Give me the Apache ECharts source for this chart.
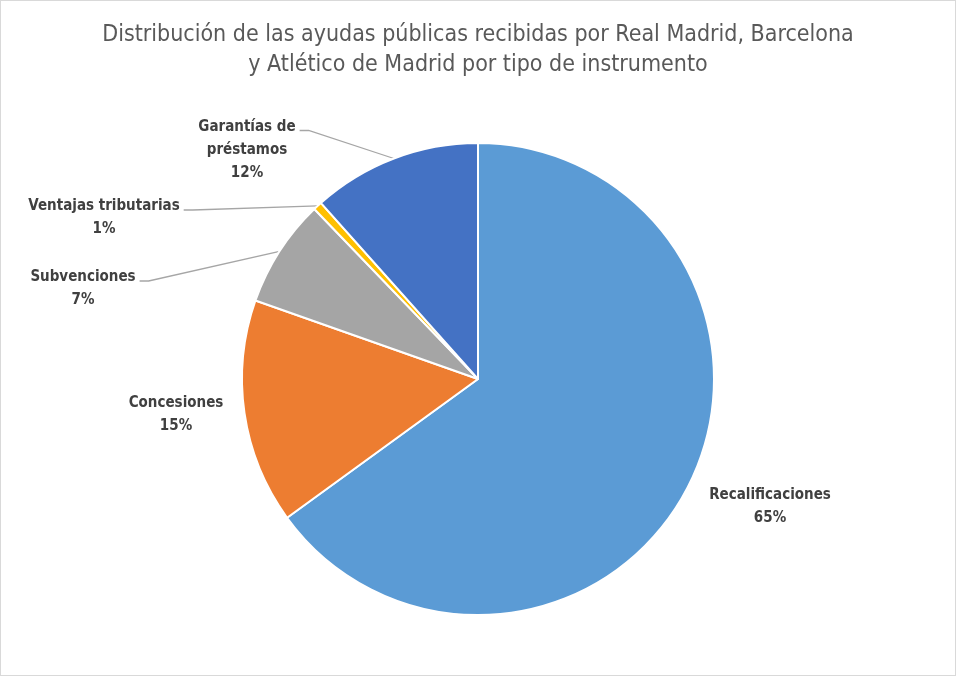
<!DOCTYPE html>
<html>
<head>
<meta charset="utf-8">
<script src="https://cdn.jsdelivr.net/npm/echarts@6/dist/echarts.min.js"></script>
<style>
html,body{margin:0;padding:0;background:#fff;}
#c{width:956px;height:676px;box-sizing:border-box;border:1px solid #d9d9d9;}
</style>
</head>
<body>
<div id="c"></div>
<script>
const titleLines = ['Distribución de las ayudas públicas recibidas por Real Madrid, Barcelona', 'y Atlético de Madrid por tipo de instrumento'];
const categories = ['Recalificaciones', 'Concesiones', 'Subvenciones', 'Ventajas tributarias', 'Garantías de\npréstamos'];
const shares = [65.0, 15.4, 7.4, 0.6, 11.6];
const colors = ['#5B9BD5', '#ED7D31', '#A5A5A5', '#FFC000', '#4472C4'];

// label placement (centre of each label block, in px) and whether it has a leader line
const labelCentres = [[769, 506], [175, 414], [82, 288], [103, 217], [246, 149]];
const leaderLines = [false, false, true, true, true];

const FONT = '"Liberation Sans Narrow", "DejaVu Sans Condensed", Lato, sans-serif';
const chart = echarts.init(document.getElementById('c'));
chart.setOption({
  animation: false,
  title: {
    text: titleLines.join('\n'),
    left: 'center',
    top: 14,
    textStyle: { fontFamily: FONT, fontSize: 23, fontWeight: 'normal', color: '#595959', lineHeight: 30 }
  },
  color: colors,
  series: [{
    type: 'pie',
    center: [477, 378],
    radius: [0, 236],
    startAngle: 90,
    clockwise: true,
    percentPrecision: 0,
    avoidLabelOverlap: false,
    itemStyle: { borderColor: '#fff', borderWidth: 2 },
    label: {
      show: true,
      position: 'outside',
      formatter: '{b}\n{d}%',
      fontFamily: FONT,
      fontSize: 15,
      fontWeight: 'bold',
      color: '#404040',
      lineHeight: 23,
      align: 'center'
    },
    labelLine: { show: true, length: 20, length2: 30, lineStyle: { color: '#a6a6a6', width: 1.3 } },
    labelLayout: function (p) {
      const i = p.dataIndex;
      const c = labelCentres[i];
      const w = p.labelRect.width, h = p.labelRect.height;
      const res = { x: c[0], y: c[1], align: 'center', verticalAlign: 'middle' };
      if (leaderLines[i] && p.labelLinePoints) {
        const ex = c[0] + w / 2 + 4;
        const ey = c[1] - h / 2 + 15;
        res.labelLinePoints = [p.labelLinePoints[0], [ex + 9, ey], [ex, ey]];
      }
      return res;
    },
    data: categories.map((n, i) => ({ name: n, value: shares[i], labelLine: { show: leaderLines[i] } }))
  }]
});
</script>
</body>
</html>
